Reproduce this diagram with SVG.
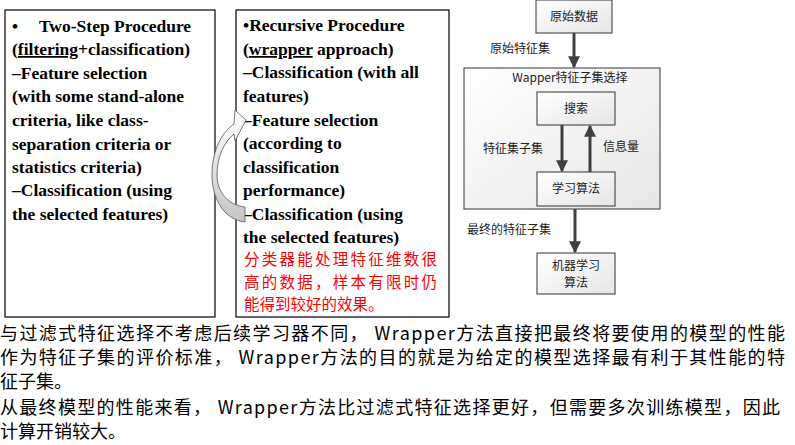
<svg xmlns="http://www.w3.org/2000/svg" width="795" height="445" viewBox="0 0 795 445">
<defs>
<linearGradient id="g" x1="0" y1="0" x2="1" y2="1"><stop offset="0" stop-color="#ffffff"/><stop offset="1" stop-color="#e6e6e6"/></linearGradient>
<linearGradient id="ga" x1="0" y1="0" x2="0" y2="1"><stop offset="0" stop-color="#ffffff"/><stop offset="1" stop-color="#c4c4c4"/></linearGradient>
<marker id="ah" viewBox="0 0 10 10" refX="9" refY="5" markerWidth="4" markerHeight="4" orient="auto"><path d="M0,0 L10,5 L0,10 z" fill="#404040"/></marker>
</defs>
<style>
.t{font-family:"Liberation Serif","Times New Roman",Tinos,serif;font-weight:bold;font-size:17.5px;fill:#000}
.r{font-family:"Noto Sans CJK SC",sans-serif;font-size:15.5px;fill:#ff0000}
.c{font-family:"Noto Sans CJK SC",sans-serif;font-size:12px;fill:#222}
.b{font-family:"Noto Sans CJK SC",sans-serif;font-size:18px;fill:#000}
.bx{fill:url(#g);stroke:#333;stroke-width:1}
.ln{stroke:#404040;stroke-width:3;fill:none;marker-end:url(#ah)}
</style>
<g id="left"><rect x="5" y="10" width="210" height="307" fill="#fff" stroke="#000" stroke-width="1.2"/>
<text class="t" font-family="Liberation Serif, serif"><tspan x="12" y="32">•</tspan><tspan x="39" y="32">Two-Step Procedure</tspan>
<tspan x="12" y="55">(<tspan text-decoration="underline">filtering</tspan>+classification)</tspan>
<tspan x="12" y="79">–Feature selection</tspan>
<tspan x="12" y="102">(with some stand-alone</tspan>
<tspan x="12" y="126">criteria, like class-</tspan>
<tspan x="12" y="150">separation criteria or</tspan>
<tspan x="12" y="173">statistics criteria)</tspan>
<tspan x="12" y="196">–Classification (using</tspan>
<tspan x="12" y="220">the selected features)</tspan></text></g>
<g id="right"><rect x="236" y="10" width="213" height="307" fill="#fff" stroke="#000" stroke-width="1.2"/>
<text class="t" font-family="Liberation Serif, serif"><tspan x="243" y="31">•Recursive Procedure</tspan>
<tspan x="243" y="55">(<tspan text-decoration="underline">wrapper</tspan> approach)</tspan>
<tspan x="243" y="78">–Classification (with all</tspan>
<tspan x="243" y="102">features)</tspan>
<tspan x="243" y="126">–Feature selection</tspan>
<tspan x="243" y="149">(according to</tspan>
<tspan x="243" y="173">classification</tspan>
<tspan x="243" y="196">performance)</tspan>
<tspan x="243" y="220">–Classification (using</tspan>
<tspan x="243" y="243">the selected features)</tspan></text>
<text class="r"><tspan x="244" y="265" textLength="193">分类器能处理特征维数很</tspan><tspan x="244" y="288" textLength="193">高的数据，样本有限时仍</tspan><tspan x="244" y="310">能得到较好的效果。</tspan></text></g>
<g id="curve"><path d="M245,207 L245,222 C225,220 212,200 212,175 C212,150 222,132 234,124 L235,110 L246,120 L235,141 L234,134 C224,142 217,157 217,175 C217,192 228,205 245,207 Z" fill="url(#ga)" stroke="#555" stroke-width="0.8"/></g>
<g id="n1"><rect class="bx" x="536" y="0" width="76" height="33"/><text class="c" x="574" y="21" text-anchor="middle">原始数据</text></g>
<g id="outer"><rect class="bx" x="464" y="68" width="196" height="141"/><text class="c" x="570" y="82" text-anchor="middle">Wapper特征子集选择</text></g>
<g id="n2"><rect class="bx" x="537" y="92" width="78" height="33"/><text class="c" x="576" y="113" text-anchor="middle">搜索</text></g>
<g id="n3"><rect class="bx" x="537" y="172" width="78" height="34"/><text class="c" x="576" y="193" text-anchor="middle">学习算法</text></g>
<g id="n4"><rect class="bx" x="537" y="253" width="78" height="41"/><text class="c" x="576" y="270" text-anchor="middle">机器学习</text><text class="c" x="576" y="287" text-anchor="middle">算法</text></g>
<g id="connectors">
<path class="ln" d="M574,33 V67"/><path class="ln" d="M562,125 V171"/><path class="ln" d="M590,172 V126"/><path class="ln" d="M575,209 V252"/>
<text class="c" x="490" y="53">原始特征集</text><text class="c" x="483" y="153">特征集子集</text><text class="c" x="603" y="151">信息量</text><text class="c" x="467" y="234">最终的特征子集</text>
</g>
<text class="b"><tspan x="0" y="340" textLength="785">与过滤式特征选择不考虑后续学习器不同， Wrapper方法直接把最终将要使用的模型的性能</tspan>
<tspan x="0" y="364" textLength="785">作为特征子集的评价标准， Wrapper方法的目的就是为给定的模型选择最有利于其性能的特</tspan>
<tspan x="0" y="388">征子集。</tspan>
<tspan x="0" y="414" textLength="780">从最终模型的性能来看， Wrapper方法比过滤式特征选择更好，但需要多次训练模型，因此</tspan>
<tspan x="0" y="438">计算开销较大。</tspan></text>
</svg>
